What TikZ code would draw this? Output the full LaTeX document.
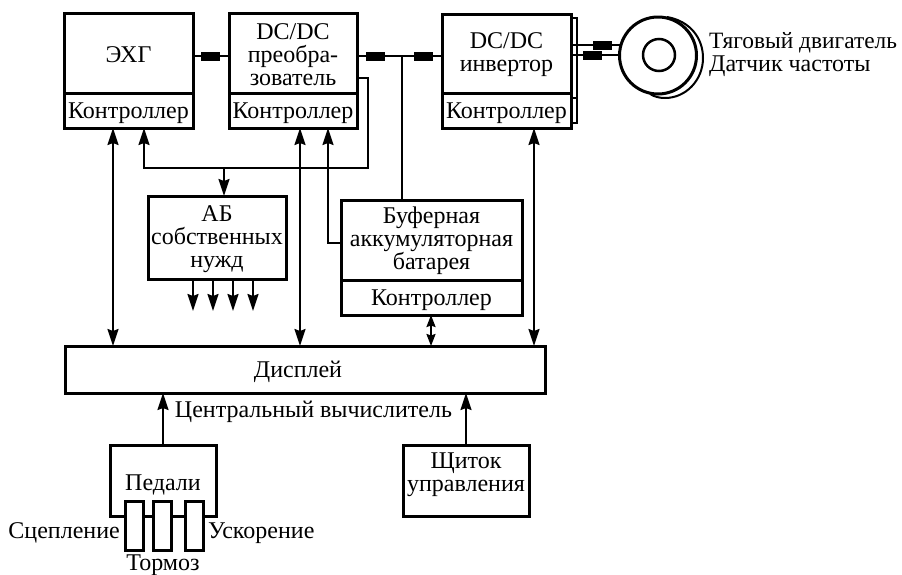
\documentclass[tikz,border=0pt]{standalone}
\usepackage{fontspec}
\setmainfont{Liberation Serif}
\usetikzlibrary{arrows.meta,calc}
\newcommand\dn[1]{\rule{0pt}{#1pt}}
\newcommand\upr[1]{\rule[-#1pt]{0pt}{#1pt}}
\tikzset{
  box/.style={draw,line width=3pt,outer sep=0pt,inner sep=0pt,anchor=north west,align=center,font=\fontsize{24}{23}\selectfont,rectangle},
  lab/.style={inner sep=0pt,font=\fontsize{24}{23}\selectfont},
  wire/.style={line width=2pt},
  arr/.style={wire,-{Stealth[length=17pt,width=11pt,inset=2pt]}},
  barr/.style={wire,{Stealth[length=17pt,width=11pt,inset=2pt]}-{Stealth[length=17pt,width=11pt,inset=2pt]}},
  sbarr/.style={wire,{Stealth[length=12pt,width=9pt,inset=1.5pt]}-{Stealth[length=12pt,width=9pt,inset=1.5pt]}},
  blk/.style={fill=black,draw=none,minimum width=19pt,minimum height=9pt,inner sep=0pt,outer sep=0pt,rectangle},
  disc/.style={draw,circle,line width=3pt,inner sep=0pt,outer sep=0pt},
}
\begin{document}
\begin{tikzpicture}[x=1pt,y=-1pt]
\useasboundingbox (0,0) rectangle (902,574);
% upper boxes
\node[box,minimum width=129pt,minimum height=80pt] (ehg) at (64,13) {\dn{20}ЭХГ};
\node[box,minimum width=129pt,minimum height=35pt] (ehgc) at (64,93) {\dn{22}Контроллер};
\node[box,minimum width=128pt,minimum height=80pt] (dc) at (229,13) {\dn{19}DC/DC\\преобра-\\зователь};
\node[box,minimum width=128pt,minimum height=35pt] (dcc) at (229,93) {\dn{22}Контроллер};
\node[box,minimum width=129pt,minimum height=79pt] (inv) at (442,14) {\dn{19}DC/DC\\инвертор};
\node[box,minimum width=129pt,minimum height=35pt] (invc) at (442,93) {\dn{22}Контроллер};
\draw[line width=2.5pt] (inv.north east |- 0,18) -- (577,18) -- (577,123) -- (invc.east |- 0,123);
\draw[line width=2pt] (inv.east |- 0,98) -- (577,98);
% motor
\coordinate (mc) at (658,55.5);
\draw[line width=2pt] (667,17) .. controls (690,21) and (703,38) .. (703,58) .. controls (703,80) and (686,98) .. (665,98) .. controls (660,98) and (655,97) .. (650,94);
\node[disc,fill=white,minimum size=77pt] (motor) at (mc) {};
\node[disc,line width=2.5pt,minimum size=32pt] (rotor) at (659,55) {};
% motor wires
\coordinate (m1) at (621,45);
\coordinate (m2) at (620,55);
\draw[wire] (inv.east |- m1) -- (m1);
\draw[wire] (inv.east |- m2) -- (m2);
\node[blk] (b4) at (602,45) {};
\node[blk] (b5) at (592.5,55.5) {};
% bus
\draw[wire] (ehg.east |- 0,56) -- (dc.west |- 0,56);
\node[blk] (b1) at (210.5,56) {};
\draw[wire] (dc.east |- 0,56) -- (inv.west |- 0,56);
\node[blk] (b2) at (375.5,56) {};
\node[blk] (b3) at (423.5,56) {};
% battery and AB
\node[box,minimum width=181pt,minimum height=80pt] (bat) at (341,200) {\dn{19}Буферная\\аккумуляторная\\батарея};
\node[box,minimum width=181pt,minimum height=35pt] (batc) at (341,280) {\dn{22}Контроллер};
\node[box,minimum width=138pt,minimum height=83pt] (ab) at (148,196) {\dn{19}АБ\\собственных\\нужд};
\node[box,minimum width=480pt,minimum height=47pt] (disp) at (65,346) {\hspace*{-14pt}\dn{21}Дисплей};
\node[box,minimum width=126pt,minimum height=71pt] (shch) at (403,445) {Щиток\\управления\upr{16}};
% pedals
\draw[line width=3pt] (125,516) -- (110.5,516) -- (110.5,445) -- (216,445) -- (216,516) -- (203,516);
\coordinate (ptop) at (163,445);
\draw[line width=3pt] (143,516) -- (153,516) (171,516) -- (185,516);
\node[box,minimum width=18pt,minimum height=49pt] (p1) at (125,501) {};
\node[box,minimum width=18pt,minimum height=49pt] (p2) at (153,501) {};
\node[box,minimum width=18pt,minimum height=49pt] (p3) at (185,501) {};
% connectors
\coordinate (xa) at (113,0);
\coordinate (xb) at (144,0);
\coordinate (xc) at (224,0);
\coordinate (xd) at (300,0);
\coordinate (xe) at (328,0);
\coordinate (xf) at (368,0);
\coordinate (xg) at (402,0);
\coordinate (xh) at (431,0);
\coordinate (xi) at (534,0);
\coordinate (xj) at (466,0);
\coordinate (yr) at (0,168);
\draw[barr] (ehgc.south -| xa) -- (disp.north -| xa);
\draw[barr] (dcc.south -| xd) -- (disp.north -| xd);
\draw[sbarr] (batc.south -| xh) -- (disp.north -| xh);
\draw[barr] (invc.south -| xi) -- (disp.north -| xi);
\draw[arr] (dc.east |- 0,78) -- (xf |- 0,78) -- (xf |- yr) -- (xb |- yr) -- (ehgc.south -| xb);
\draw[arr] (xc |- yr) -- (ab.north -| xc);
\draw[arr] (bat.west |- 0,243) -- (xe |- 0,243) -- (dcc.south -| xe);
\draw[wire] (xg |- 0,56) -- (bat.north -| xg);
\foreach \x/\n in {193/o1,213/o2,233/o3,253/o4}{
  \coordinate (\n) at (\x,311);
  \draw[arr] (ab.south -| \n) -- (\n);
}
\draw[arr] (ptop) -- (disp.south -| ptop);
\draw[arr] (shch.north -| xj) -- (disp.south -| xj);
% labels
\node[lab] (lcv) at (313.5,412) {Центральный вычислитель};
\node[lab,anchor=west,font=\fontsize{23.4}{23}\selectfont] (l1) at (709,43) {Тяговый двигатель};
\node[lab,anchor=west] (l2) at (709,66) {Датчик частоты};
\node[lab] (lped) at (163,485) {Педали};
\node[lab,anchor=east] (ls) at (120,533) {Сцепление};
\node[lab,anchor=west] (lu) at (208,533) {Ускорение};
\node[lab] (lt) at (163,565) {Тормоз};
\end{tikzpicture}
\end{document}
